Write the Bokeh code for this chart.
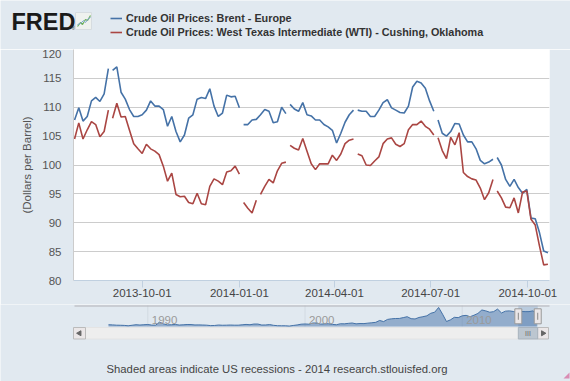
import numpy as np
import pandas as pd
from bokeh.plotting import figure
from bokeh.layouts import column
from bokeh.models import Range1d, FixedTicker, DatetimeTickFormatter, Legend, LegendItem
from bokeh.embed import file_html
from bokeh.resources import INLINE
from bokeh.core.properties import value

BG = "#E1E9F0"
BLUE = "#4572A7"
RED = "#AA4643"
FONT = "Liberation Sans"

# ---------------- data ----------------
start_date = "2013-07-29"
step_days = 4
brent = [
    107.8, 109.9, 107.6, 108.4, 111.1, 111.7, 111.0, 112.3, 116.7,
    116.4, 117.0, 112.6, 111.4, 109.6, 108.4, 108.4, 108.7, 109.5, 111.1,
    110.2, 110.2, 109.6, 106.7, 108.4, 105.8, 104.0, 105.2, 108.1, 108.7,
    111.4, 111.7, 111.5, 113.2, 110.2, 108.4, 109.0, 112.1, 111.8, 111.9,
    109.9, 107.0, 107.0, 107.8, 107.9, 108.7, 109.6, 109.3, 107.3, 107.5,
    110.0, 108.9, 110.5, 109.7, 109.3, 110.8, 108.7, 108.5, 107.8, 107.8,
    107.0, 106.6, 106.0, 103.8, 105.5, 107.4, 108.7, 109.5, 109.5, 109.3,
    109.3, 108.4, 108.4, 109.5, 110.8, 111.3, 109.9, 109.5, 109.1, 109.0,
    110.2, 113.5, 114.5, 114.2, 113.3, 111.1, 109.3, 107.8, 105.5, 105.0,
    105.8, 107.2, 107.1, 105.2, 104.0, 104.0, 102.8, 100.8, 100.2, 100.5,
    101.0, 101.3, 100.0, 97.5, 96.3, 97.5, 96.1, 95.1, 95.8, 90.8,
    90.7, 88.3, 85.1, 84.8,
]
wti = [
    104.5, 107.3, 104.5, 106.1, 107.5, 107.0, 104.9, 105.8, 109.5,
    108.1, 110.7, 108.3, 108.4, 106.0, 103.7, 102.8, 102.0, 103.6, 102.8,
    102.4, 101.8, 99.8, 97.2, 98.6, 94.9, 94.5, 94.6, 93.5, 93.3,
    95.1, 93.3, 93.1, 96.3, 97.6, 97.2, 96.6, 98.8, 99.0, 99.8,
    98.4, 93.5, 92.5, 91.7, 93.9, 94.9, 96.3, 97.5, 96.9, 99.0,
    100.3, 100.5, 103.4, 102.9, 102.6, 104.6, 102.4, 100.2, 99.2, 100.2,
    100.2, 100.2, 101.7, 100.8, 101.9, 103.7, 104.3, 104.5, 101.9, 101.6,
    100.0, 99.9, 100.7, 101.4, 103.7, 104.5, 104.7, 103.6, 103.2, 103.7,
    106.1, 107.0, 107.0, 107.6, 106.7, 106.2, 105.2, 104.7, 102.5, 101.1,
    104.8, 103.5, 105.6, 98.7, 98.0, 97.6, 97.4, 96.0, 94.0, 95.2,
    97.5, 95.5, 94.3, 92.7, 92.6, 94.3, 91.7, 95.3, 95.5, 90.6,
    89.6, 86.0, 82.7, 82.8,
]
brent_gaps_after = [8, 39, 50, 66, 85, 99]
wti_gaps_after = [8, 39, 43, 50, 66, 85, 99]
series_names = [
    "Crude Oil Prices: Brent - Europe",
    "Crude Oil Prices: West Texas Intermediate (WTI) - Cushing, Oklahoma",
]
tick_dates = ["2013-10-01", "2014-01-01", "2014-04-01", "2014-07-01", "2014-10-01"]
y_ticks = [80, 85, 90, 95, 100, 105, 110, 115, 120]
y_label = "(Dollars per Barrel)"

# navigator: Brent history, quarterly points from mid-1987
nav_start_year = 1987.5
nav_step = 0.25
nav_values = [
    19.5, 18.5,
    16.5, 16.0, 15.0, 12.5,
    16.0, 19.5, 17.5, 19.5,
    21.0, 17.0, 16.5, 37.0,
    25.0, 18.5, 19.5, 21.5,
    17.5, 19.0, 21.0, 20.5,
    18.0, 18.5, 17.5, 16.5,
    13.5, 14.5, 17.5, 16.0,
    16.5, 17.5, 16.5, 16.5,
    19.0, 21.5, 19.5, 24.0,
    24.0, 17.5, 18.0, 20.5,
    15.5, 13.0, 12.5, 12.5,
    10.5, 14.5, 18.0, 23.0,
    24.5, 23.0, 31.0, 31.0,
    23.5, 25.5, 26.0, 21.5,
    19.5, 26.0, 25.5, 28.5,
    31.0, 25.5, 27.5, 27.0,
    30.0, 32.5, 35.5, 48.0,
    40.5, 55.0, 59.0, 61.0,
    61.5, 67.0, 73.0, 60.0,
    58.0, 68.0, 73.0, 79.0,
    96.0, 103.0, 135.0, 90.0,
    41.0, 52.0, 69.0, 67.0,
    79.0, 82.0, 73.0, 83.0,
    95.0, 118.0, 112.0, 103.0,
    107.0, 124.0, 98.0, 110.0,
    112.0, 108.0, 103.0, 108.0,
    107.0, 107.0, 112.0, 94.0,
]
nav_tick_years = [1990, 2000, 2010]
nav_tick_labels = ["1990", "2000", "2010"]
footer_text = "Shaded areas indicate US recessions - 2014 research.stlouisfed.org"
logo_text = "FRED"

W = 570
HEAD_H = 49

# ---------------- build series ----------------
dates = pd.date_range(start_date, periods=len(brent), freq=f"{step_days}D")


def with_gaps(vals, gaps):
    xs, ys = [], []
    for i, (d, v) in enumerate(zip(dates, vals)):
        xs.append(d)
        ys.append(v)
        if i in gaps:
            xs.append(d + pd.Timedelta(days=step_days / 2))
            ys.append(np.nan)
    return pd.to_datetime(xs), np.array(ys, dtype=float)


bx, by = with_gaps(brent, brent_gaps_after)
wx, wy = with_gaps(wti, wti_gaps_after)

x_start = pd.Timestamp("2013-07-28")
x_end = pd.Timestamp("2014-10-21 12:00")

# ---------------- header (logo + legend) ----------------
ph = figure(width=W, height=HEAD_H, x_range=Range1d(0, W), y_range=Range1d(HEAD_H, 0), title=None,
            x_axis_location=None, y_axis_location=None, output_backend="svg", toolbar_location=None,
            min_border=0, background_fill_color=BG, border_fill_color=BG, outline_line_color=None,
            frame_align=False)
ph.grid.visible = False
ph.text(x=[11], y=[21], text=[logo_text], text_font=value(FONT), text_font_style="bold",
        text_font_size="23.5px", text_color="#1A1A1A", text_baseline="middle", text_align="left")
ph.text(x=[71], y=[27], text=["\u00ae"], text_font=value(FONT), text_font_size="5px",
        text_color="#1A1A1A", text_baseline="middle", text_align="left")
# small logo chart icon
ph.quad(left=[75], right=[91], top=[12], bottom=[29], fill_color="#EEF1EE", line_color="#D6DCE0")
ph.line(x=[77, 80, 82, 85, 87, 90], y=[26, 22, 24, 19, 20, 15], line_color="#6BAF5A", line_width=1.2)
ph.line(x=[77, 80, 83, 85, 88, 90], y=[24, 23, 20, 22, 18, 17], line_color="#7FA6CF", line_width=1)
# legend keys: the same series, hidden here (only their legend swatches show)
k1 = ph.line(bx, by, line_color=BLUE, line_width=1.6, visible=False)
k2 = ph.line(wx, wy, line_color=RED, line_width=1.6, visible=False)
legend = Legend(items=[LegendItem(label=series_names[0], renderers=[k1]),
                       LegendItem(label=series_names[1], renderers=[k2])],
                location=(110, HEAD_H - 39), orientation="vertical", padding=0, margin=0, spacing=0,
                glyph_width=12, glyph_height=14, label_height=14, label_standoff=4,
                label_text_font=FONT, label_text_font_style="bold",
                label_text_font_size="10.8px", label_text_color="#333333",
                background_fill_alpha=0, border_line_alpha=0, inactive_fill_alpha=0)
ph.add_layout(legend)

# ---------------- main chart ----------------
p = figure(width=W, height=304 - HEAD_H, x_axis_type="datetime", title=None,
           x_range=Range1d(x_start, x_end), y_range=Range1d(80, 120),
           output_backend="svg", toolbar_location=None,
           min_border_left=73, min_border_right=21, min_border_top=0, min_border_bottom=24,
           background_fill_color="white", border_fill_color=BG, outline_line_color=None,
           frame_align=False)

p.line(bx, by, line_color=BLUE, line_width=1.6)
p.line(wx, wy, line_color=RED, line_width=1.6)

p.xgrid.visible = False
p.ygrid.grid_line_color = "#CCCCCC"
p.ygrid.ticker = FixedTicker(ticks=y_ticks)

p.yaxis.ticker = FixedTicker(ticks=y_ticks)
p.yaxis.major_tick_line_color = None
p.yaxis.major_tick_out = 0
p.yaxis.major_tick_in = 0
p.yaxis.minor_tick_line_color = None
p.yaxis.minor_tick_out = 0
p.yaxis.axis_line_color = "#CCCCCC"
p.yaxis.major_label_standoff = 12
p.yaxis.major_label_text_font = FONT
p.yaxis.major_label_text_font_size = "11.5px"
p.yaxis.major_label_text_color = "#555555"
p.yaxis.axis_label = y_label
p.yaxis.axis_label_text_font = FONT
p.yaxis.axis_label_text_font_size = "11.5px"
p.yaxis.axis_label_text_font_style = "normal"
p.yaxis.axis_label_text_color = "#555555"
p.yaxis.axis_label_standoff = 6

tick_ms = [pd.Timestamp(d).value / 1e6 for d in tick_dates]
p.xaxis.ticker = FixedTicker(ticks=tick_ms)
fmt = "%Y-%m-%d"
p.xaxis.formatter = DatetimeTickFormatter(days=fmt, months=fmt, years=fmt, hours=fmt)
p.xaxis.axis_line_color = "#C0D0E0"
p.xaxis.major_tick_line_color = "#C0D0E0"
p.xaxis.major_tick_in = 0
p.xaxis.major_tick_out = 7
p.xaxis.minor_tick_line_color = None
p.xaxis.minor_tick_out = 0
p.xaxis.major_label_standoff = 1
p.xaxis.major_label_text_font = FONT
p.xaxis.major_label_text_font_size = "11.5px"
p.xaxis.major_label_text_color = "#444444"

# ---------------- navigator + footer ----------------
nav_years = nav_start_year + nav_step * np.arange(len(nav_values))
NAV_TOP, NAV_BOTTOM = 304, 381
px_per_year = 15.72
year_at_1990 = 147.3
yr0 = 1990 - year_at_1990 / px_per_year
yr1 = 1990 + (W - year_at_1990) / px_per_year
px_per_dollar = 0.1497
ref_y, ref_price = 324.9, 15.0
price_top = ref_price + (ref_y - NAV_TOP) / px_per_dollar
price_bot = ref_price - (NAV_BOTTOM - ref_y) / px_per_dollar
nav_base = ref_price - (326 - ref_y) / px_per_dollar
label_price = ref_price + (ref_y - 319) / px_per_dollar
nav_top_price = ref_price + (ref_y - 305) / px_per_dollar


def to_year(ts):
    days = 366 if ts.is_leap_year else 365
    return ts.year + (ts.dayofyear - 1 + ts.hour / 24) / days


sel0, sel1 = to_year(x_start), to_year(x_end)

p2 = figure(width=W, height=NAV_BOTTOM - NAV_TOP, x_range=Range1d(0, W),
            y_range=Range1d(NAV_BOTTOM, NAV_TOP), title=None,
            x_axis_location=None, y_axis_location=None, output_backend="svg", toolbar_location=None,
            min_border=0, background_fill_color=BG, border_fill_color=BG, outline_line_color=None,
            frame_align=False)
p2.grid.visible = False
p2.extra_x_ranges = {"yr": Range1d(yr0, yr1)}
p2.extra_y_ranges = {"price": Range1d(price_bot, price_top)}

p2.segment(x0=nav_tick_years, y0=[nav_base] * 3, x1=nav_tick_years, y1=[nav_top_price] * 3,
           x_range_name="yr", y_range_name="price", line_color="#D2DAE2", line_width=1)
p2.varea(x=nav_years, y1=nav_base, y2=nav_values, x_range_name="yr", y_range_name="price",
         fill_color=BLUE, fill_alpha=0.5)
p2.line(nav_years, nav_values, x_range_name="yr", y_range_name="price", line_color=BLUE, line_width=1)
p2.text(x=[t + 0.25 for t in nav_tick_years], y=[label_price] * 3, text=nav_tick_labels,
        x_range_name="yr", y_range_name="price",
        text_font=value(FONT), text_font_size="11.5px", text_color="#9A9A9A",
        text_baseline="middle", text_align="left")
p2.quad(left=[sel0], right=[sel1], bottom=[nav_base], top=[nav_top_price],
        x_range_name="yr", y_range_name="price", fill_color=BLUE, fill_alpha=0.25, line_color=None)
p2.segment(x0=[74], y0=[305.5], x1=[549], y1=[305.5], line_color="#B2B1B6", line_width=1)

# scrollbar
p2.quad(left=[85], right=[537], bottom=[338.5], top=[327], fill_color="#EEEEEE", line_color="#E4E4E4")
p2.quad(left=[73, 537], right=[85, 548], bottom=[338.5, 338.5], top=[327, 327],
        fill_color="#EBE7E8", line_color="#BBBBBB")
p2.scatter(x=[79, 542.5], y=[332.75, 332.75], marker="triangle", size=5,
           angle=[np.pi / 2, -np.pi / 2], fill_color="#666666", line_color="#666666")
p2.quad(left=[sel0], right=[sel1], bottom=[338.5], top=[327], x_range_name="yr",
        fill_color="#BCC6D0", line_color="#A9B3BD")
p2.text(x=[(sel0 + sel1) / 2], y=[332.75], text=["III"], x_range_name="yr",
        text_font=value(FONT), text_font_size="7px", text_color="#666666",
        text_align="center", text_baseline="middle")
# handles
p2.rect(x=[sel0, sel1], y=[315.8, 315.8], width=7, height=15, width_units="screen",
        height_units="screen", x_range_name="yr", fill_color="#EBE7E8", line_color="#999999")
p2.rect(x=[sel0, sel1], y=[315.8, 315.8], width=1, height=7, width_units="screen",
        height_units="screen", x_range_name="yr", fill_color="#888888", line_color=None)
# footer
p2.text(x=[106], y=[368], text=[footer_text], text_font=value(FONT), text_font_size="11.3px",
        text_color="#444444", text_baseline="middle", text_align="left")
p2.patch(x=[569, 569, 563], y=[372, 378, 378], fill_color="#D98CB3", line_color=None)

layout = column(ph, p, p2, spacing=0)
open("out.html", "w").write(file_html(layout, INLINE))
